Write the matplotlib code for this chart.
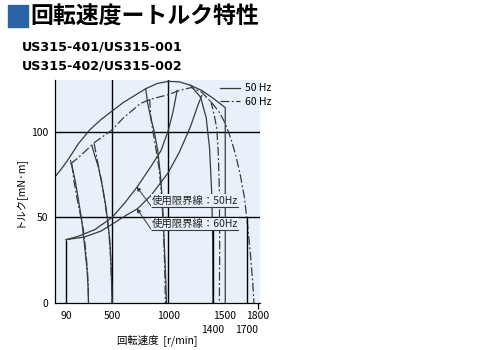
import matplotlib.pyplot as plt
from matplotlib.patches import Rectangle

plt.rcParams['font.family'] = ['Noto Sans CJK JP', 'DejaVu Sans']

# outer torque curves (rpm, mN*m)
arch50_x = [-10, 50, 100, 150, 200, 250, 300, 400, 500, 600, 700, 800, 900, 1000,
            1100, 1200, 1300, 1400, 1460, 1510, 1510]
arch50_y = [73.6, 78.5, 83, 88, 93, 97, 101, 107, 112, 117, 121, 125, 128, 129.3,
            129, 127, 124, 119.5, 116.5, 114, 0]
arch60_x = [129, 200, 243, 350, 500, 600, 756, 850, 1000, 1100, 1208, 1300, 1400,
            1460, 1510, 1560, 1600, 1640, 1680, 1710, 1735, 1755, 1766]
arch60_y = [81, 85, 87.5, 94, 101, 108, 116.5, 119, 121.5, 124, 125.7, 123, 116,
            111, 104.7, 96, 87, 76, 62, 45, 28, 12, 0]

# speed-controlled curves, 50 Hz (solid)
ctrl50 = [
    ([129, 145, 168, 195, 229, 255, 274, 285, 289],
     [83, 79, 72, 62, 48, 33, 21, 10, 0]),
    ([319, 345, 379, 410, 440, 462, 479, 492, 500],
     [92, 86, 79, 69, 58, 47, 37, 20, 0]),
    ([800, 816, 845, 876, 907, 935, 952, 965, 978, 985],
     [125, 117, 108, 100, 89, 72, 55, 35, 15, 0]),
    ([1200, 1290, 1340, 1370, 1389, 1398, 1400],
     [127, 120, 108, 90, 64, 35, 0]),
]
# speed-controlled curves, 60 Hz (dash-dot)
ctrl60 = [
    ([140, 160, 184, 215, 244, 265, 280, 287, 289],
     [81, 71, 62, 52, 42.5, 30, 19, 8, 0]),
    ([340, 380, 410, 435, 455, 472, 485, 495, 500],
     [93, 79, 70, 59, 50, 40, 28, 12, 0]),
    ([835, 846, 870, 891, 920, 945, 960, 970, 975],
     [119, 108, 98, 90, 78, 60, 40, 20, 0]),
    ([1380, 1410, 1434, 1448, 1458, 1460, 1457],
     [118, 110, 102, 87, 64, 30, 0]),
]

# usage limit lines
limit50_x = [90, 200, 350, 500, 620, 726, 850, 937, 1003, 1045, 1080]
limit50_y = [37, 39, 43, 50, 59, 68, 80, 89, 101, 112, 124]
limit60_x = [90, 250, 400, 500, 620, 726, 850, 1000, 1100, 1200, 1269, 1300]
limit60_y = [37, 38.5, 42, 46, 51, 55, 63, 76, 88, 103, 116, 121]

# speed range markers
range_x = [90, 1400, 1700]
range_top = [37, 44.5, 50]

xticks = [90, 500, 1000, 1500, 1800]
xticks_low = [1400, 1700]
yticks = [0, 50, 100]

line_c = '#3a3a3a'
bg = '#e8f1f9'
dashdot = (0, (7, 2, 1.5, 2))

fig = plt.figure(figsize=(5, 3.5), dpi=100)
ax = fig.add_axes([0.11, 0.134, 0.41, 0.637])
ax.set_facecolor(bg)
ax.set_xlim(-10, 1820)
ax.set_ylim(0, 130)

# grid lines
for gx in [500, 1000]:
    ax.axvline(gx, color='black', lw=1.0, zorder=1)
for gy in [50, 100]:
    ax.axhline(gy, color='black', lw=1.0, zorder=1)

ax.plot(arch50_x, arch50_y, color=line_c, lw=0.9)
ax.plot(arch60_x, arch60_y, color=line_c, lw=0.9, ls=dashdot)
for cx, cy in ctrl50:
    ax.plot(cx, cy, color=line_c, lw=0.9)
for cx, cy in ctrl60:
    ax.plot(cx, cy, color=line_c, lw=0.9, ls=dashdot)
ax.plot(limit50_x, limit50_y, color=line_c, lw=0.9)
ax.plot(limit60_x, limit60_y, color=line_c, lw=0.9)
ax.vlines(range_x, 0, range_top, color='black', lw=1.0)

# callout labels: underlined text with a leader to the curve
callouts = [('使用限界線：50Hz', (1625, 56), (719, 67.8)),
            ('使用限界線：60Hz', (1625, 42.5), (719, 55.2))]
fig.canvas.draw()
for txt, (tx, ty), tip in callouts:
    t = ax.text(tx, ty + 0.8, txt, fontsize=7.5, color='#222222', ha='right', va='bottom',
                zorder=4, bbox=dict(boxstyle='square,pad=0.1', fc=bg, ec='none'))
    bb = t.get_window_extent(fig.canvas.get_renderer())
    x0 = ax.transData.inverted().transform((bb.x0, bb.y0))[0]
    ax.plot([x0, tx], [ty, ty], color=line_c, lw=0.8, zorder=4)
    ax.annotate('', xy=tip, xytext=(x0, ty),
                arrowprops=dict(arrowstyle='-|>', color=line_c, lw=0.7,
                                mutation_scale=6, shrinkA=0, shrinkB=0))

# legend
ax.plot([], [], color=line_c, lw=0.9, label='50 Hz')
ax.plot([], [], color=line_c, lw=0.9, ls=dashdot, label='60 Hz')
ax.legend(loc='upper right', bbox_to_anchor=(1.09, 1.018), frameon=False,
          fontsize=7.5, handlelength=2.0, handletextpad=0.4,
          labelspacing=0.3, borderaxespad=0.3)

for s in ['top', 'right']:
    ax.spines[s].set_visible(False)
ax.spines['left'].set_linewidth(0.9)
ax.spines['bottom'].set_linewidth(0.9)

ax.set_xticks(xticks)
ax.set_xticks(xticks_low, minor=True)
ax.set_xticklabels([str(v) for v in xticks], fontsize=7.5)
ax.set_xticklabels([str(v) for v in xticks_low], minor=True, fontsize=7.5)
ax.tick_params(axis='x', which='major', length=4, width=0.9, pad=2)
ax.tick_params(axis='x', which='minor', length=0, pad=16)
for tk in ax.xaxis.get_major_ticks()[:-1]:
    tk.tick1line.set_visible(False)
ax.set_yticks(yticks)
ax.set_yticklabels([str(v) for v in yticks], fontsize=7.5)
ax.tick_params(axis='y', length=0, pad=5)
ax.set_xlabel('回転速度  [r/min]', fontsize=7.5, labelpad=-1)
ax.set_ylabel('トルク[mN·m]', fontsize=7.5, labelpad=4)

# title block
fig.patches.append(Rectangle((0.016, 0.923), 0.04, 0.062, transform=fig.transFigure,
                             color='#2a62a6', zorder=5))
fig.text(0.06, 0.952, '回転速度ートルク特性', fontsize=16.5, fontweight='bold', va='center')
fig.text(0.044, 0.866, 'US315-401/US315-001', fontsize=9.2, fontweight='bold', va='center',
         family='DejaVu Sans')
fig.text(0.044, 0.812, 'US315-402/US315-002', fontsize=9.2, fontweight='bold', va='center',
         family='DejaVu Sans')

fig.savefig('out.png', dpi=100)
